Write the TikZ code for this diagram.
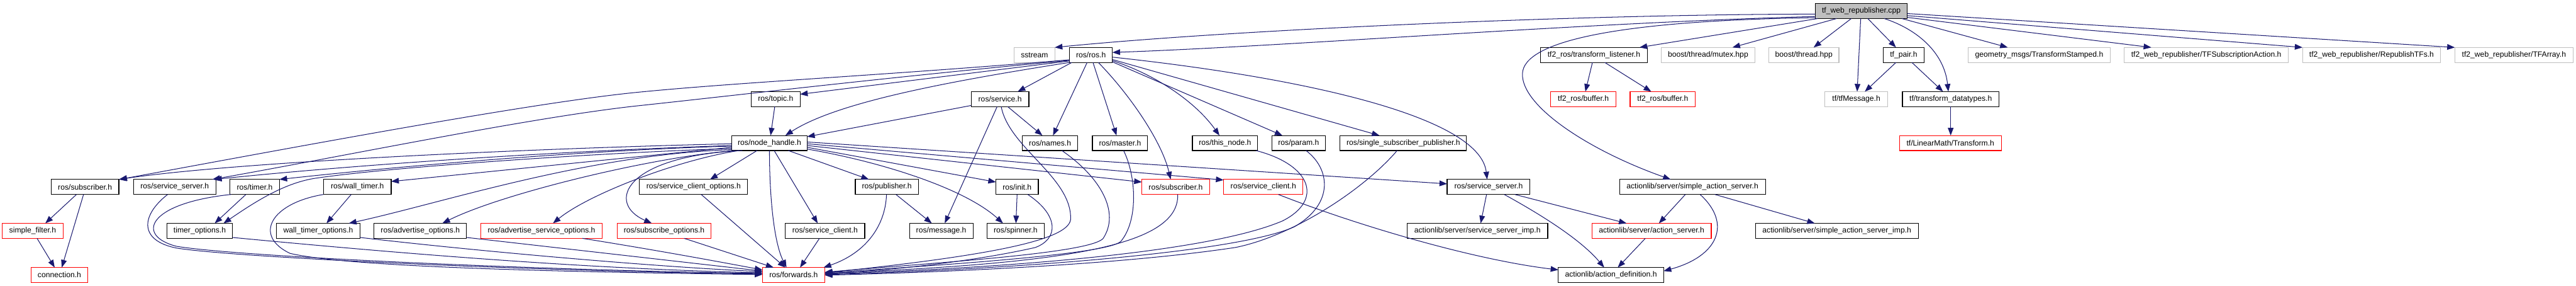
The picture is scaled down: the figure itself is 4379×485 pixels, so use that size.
\documentclass[tikz,border=0pt]{standalone}
\usepackage{fontspec}
\setmainfont{Liberation Sans}
\usetikzlibrary{arrows.meta}
\definecolor{edgec}{HTML}{191970}
\definecolor{greyb}{HTML}{BFBFBF}
\tikzset{
 box/.style={draw=black, line width=0.6pt, inner sep=0pt, outer sep=0pt, minimum height=12.75pt, font=\fontsize{6.5pt}{7.8pt}\selectfont, fill=white},
 bk/.style={box},
 rd/.style={box, draw=red},
 gy/.style={box, draw=greyb},
 rt/.style={box, fill=greyb},
 edg/.style={draw=edgec, line width=0.55pt, -{Triangle[length=6.5pt,width=4.8pt]}},
}
\newcommand{\gn}[6]{\node[#5, minimum width={(#3-#2)*0.5pt}] (#1) at ({(#2+#3)/2},#4) {#6};}
\begin{document}
\begin{tikzpicture}[x=0.5pt,y=-0.5pt]
\fill[white] (0,0) rectangle (4379,485);
\useasboundingbox (0,0) rectangle (4379,485);
% nodes
\gn{root}{3086}{3242}{18.75}{rt}{tf\_web\_republisher.cpp}
\gn{sstream}{1724}{1793}{93.25}{gy}{sstream}
\gn{rosh}{1818}{1891}{93.25}{bk}{ros/ros.h}
\gn{tflistener}{2619}{2800}{93.25}{bk}{tf2\_ros/transform\_listener.h}
\gn{mutex}{2824}{2983}{93.25}{gy}{boost/thread/mutex.hpp}
\gn{thread}{3007}{3126}{93.25}{gy}{boost/thread.hpp}
\gn{tfpair}{3201}{3271}{93.25}{bk}{tf\_pair.h}
\gn{geom}{3346}{3587}{93.25}{gy}{geometry\_msgs/TransformStamped.h}
\gn{tfsub}{3611}{3890}{93.25}{gy}{tf2\_web\_republisher/TFSubscriptionAction.h}
\gn{repub}{3914}{4149}{93.25}{gy}{tf2\_web\_republisher/RepublishTFs.h}
\gn{tfarray}{4173}{4374}{93.25}{gy}{tf2\_web\_republisher/TFArray.h}
\gn{topic}{1277}{1360}{168.25}{bk}{ros/topic.h}
\gn{service}{1651}{1749}{168.25}{bk}{ros/service.h}
\gn{buf1}{2636}{2747}{168.25}{rd}{tf2\_ros/buffer.h}
\gn{buf2}{2771}{2882}{168.25}{rd}{tf2\_ros/buffer.h}
\gn{tfmsg}{3102}{3209}{168.25}{gy}{tf/tfMessage.h}
\gn{tfdt}{3234}{3398}{168.25}{bk}{tf/transform\_datatypes.h}
\gn{nh}{1244}{1372}{242.75}{bk}{ros/node\_handle.h}
\gn{names}{1738}{1832}{242.75}{bk}{ros/names.h}
\gn{master}{1857}{1951}{242.75}{bk}{ros/master.h}
\gn{thisnode}{2027}{2138}{242.75}{bk}{ros/this\_node.h}
\gn{param}{2162}{2253}{242.75}{bk}{ros/param.h}
\gn{ssp}{2278}{2493}{242.75}{bk}{ros/single\_subscriber\_publisher.h}
\gn{lmt}{3229}{3402}{242.75}{rd}{tf/LinearMath/Transform.h}
\gn{sub}{87}{202}{317.25}{bk}{ros/subscriber.h}
\gn{ss}{227}{367}{317.25}{bk}{ros/service\_server.h}
\gn{timer}{391}{475}{317.25}{bk}{ros/timer.h}
\gn{wtimer}{550}{665}{317.25}{bk}{ros/wall\_timer.h}
\gn{sco}{1087}{1271}{317.25}{bk}{ros/service\_client\_options.h}
\gn{pub}{1454}{1561}{317.25}{bk}{ros/publisher.h}
\gn{init}{1693}{1765}{317.25}{bk}{ros/init.h}
\gn{subr}{1941}{2056}{317.25}{rd}{ros/subscriber.h}
\gn{scr}{2080}{2215}{317.25}{rd}{ros/service\_client.h}
\gn{ss2}{2460}{2601}{317.25}{bk}{ros/service\_server.h}
\gn{sas}{2753}{3001}{317.25}{bk}{actionlib/server/simple\_action\_server.h}
\gn{sf}{4}{107}{391.75}{rd}{simple\_filter.h}
\gn{topt}{284}{395}{391.75}{bk}{timer\_options.h}
\gn{wto}{470}{612}{391.75}{bk}{wall\_timer\_options.h}
\gn{ao}{636}{793}{391.75}{bk}{ros/advertise\_options.h}
\gn{aso}{817}{1024}{391.75}{rd}{ros/advertise\_service\_options.h}
\gn{so}{1049}{1209}{391.75}{rd}{ros/subscribe\_options.h}
\gn{sc}{1335}{1470}{391.75}{bk}{ros/service\_client.h}
\gn{msg}{1546}{1654}{391.75}{bk}{ros/message.h}
\gn{spin}{1678}{1775}{391.75}{bk}{ros/spinner.h}
\gn{ssimp}{2392}{2631}{391.75}{bk}{actionlib/server/service\_server\_imp.h}
\gn{as}{2706}{2909}{391.75}{rd}{actionlib/server/action\_server.h}
\gn{sasimp}{2984}{3261}{391.75}{bk}{actionlib/server/simple\_action\_server\_imp.h}
\gn{conn}{53}{149}{466.75}{rd}{connection.h}
\gn{fwd}{1296}{1402}{466.75}{rd}{ros/forwards.h}
\gn{ad}{2649}{2828}{466.75}{bk}{actionlib/action\_definition.h}
% root edges
\draw[edg] ([shift={(0,18)}]root.north west) .. controls (2700,24) and (2100,50) .. (sstream.north east);
\draw[edg] ([shift={(0,22)}]root.north west) .. controls (2700,38) and (2200,78) .. ([shift={(0,8.5)}]rosh.north east);
\draw[edg] ([shift={(0,24)}]root.north west) .. controls (2750,35) and (2590,70) .. (2588,125) .. controls (2586,180) and (2700,255) .. ([shift={(87,0)}]sas.north west);
\draw[edg] ([shift={(4,0)}]root.south west) -- ([shift={(168,0)}]tflistener.north west);
\draw[edg] ([shift={(36,0)}]root.south west) -- ([shift={(121,0)}]mutex.north west);
\draw[edg] ([shift={(61,0)}]root.south west) -- ([shift={(76,0)}]thread.north west);
\draw[edg] ([shift={(77,0)}]root.south west) -- ([shift={(55,0)}]tfmsg.north west);
\draw[edg] ([shift={(89,0)}]root.south west) -- ([shift={(22,0)}]tfpair.north west);
\draw[edg] ([shift={(117,0)}]root.south west) .. controls (3260,50) and (3305,90) .. ([shift={(78,0)}]tfdt.north west);
\draw[edg] ([shift={(147,0)}]root.south west) -- ([shift={(67,0)}]geom.north west);
\draw[edg] ([shift={(0,23.5)}]root.north east) -- ([shift={(46,0)}]tfsub.north west);
\draw[edg] ([shift={(0,20.5)}]root.north east) -- (repub.north west);
\draw[edg] ([shift={(0,17)}]root.north east) -- (tfarray.north west);
% tf edges
\draw[edg] ([shift={(22,0)}]tfpair.south west) -- ([shift={(68,0)}]tfmsg.north west);
\draw[edg] ([shift={(49,0)}]tfpair.south west) -- ([shift={(69,0)}]tfdt.north west);
\draw[edg] ([shift={(82,0)}]tfdt.south west) -- ([shift={(87,0)}]lmt.north west);
\draw[edg] ([shift={(88,0)}]tflistener.south west) -- ([shift={(59,0)}]buf1.north west);
\draw[edg] ([shift={(109,0)}]tflistener.south west) -- ([shift={(36,0)}]buf2.north west);
% ros.h edges
\draw[edg] ([shift={(4,0)}]rosh.south west) -- ([shift={(79,0)}]service.north west);
\draw[edg] ([shift={(30,0)}]rosh.south west) -- ([shift={(52,0)}]names.north west);
\draw[edg] ([shift={(40,0)}]rosh.south west) -- ([shift={(41,0)}]master.north west);
\draw[edg] ([shift={(49,0)}]rosh.south west) .. controls (1920,160) and (1975,240) .. ([shift={(49,0)}]subr.north west);
\draw[edg] ([shift={(0,22.5)}]rosh.north east) .. controls (1960,125) and (2030,170) .. ([shift={(46,0)}]thisnode.north west);
\draw[edg] ([shift={(0,24.5)}]rosh.north east) -- ([shift={(18,0)}]param.north west);
\draw[edg] ([shift={(0,20.5)}]rosh.north east) -- ([shift={(67,0)}]ssp.north west);
\draw[edg] ([shift={(0,16.5)}]rosh.north east) .. controls (2200,130) and (2515,195) .. ([shift={(68,0)}]ss2.north west);
\draw[edg] ([shift={(0,23)}]rosh.north west) -- ([shift={(0,4.5)}]topic.north east);
\draw[edg] (rosh.south west) .. controls (1600,140) and (1420,175) .. ([shift={(91,0)}]nh.north west);
\draw[edg] ([shift={(0,21)}]rosh.north west) .. controls (1500,128) and (1250,140) .. (1080,157) .. controls (900,175) and (500,250) .. ([shift={(116,0)}]sub.north west);
\draw[edg] ([shift={(0,22)}]rosh.north west) .. controls (1500,132) and (1250,162) .. (1080,180) .. controls (900,200) and (600,262) .. ([shift={(134,0)}]ss.north west);
% node_handle edges
\draw[edg] ([shift={(0,14)}]nh.north west) .. controls (900,252) and (400,275) .. ([shift={(115,0)}]sub.north west);
\draw[edg] ([shift={(0,17)}]nh.north west) .. controls (900,258) and (550,285) .. ([shift={(137,0)}]ss.north west);
\draw[edg] ([shift={(0,18)}]nh.north west) .. controls (1000,255) and (700,280) .. ([shift={(84,0)}]timer.north west);
\draw[edg] ([shift={(0,20)}]nh.north west) -- ([shift={(0,3.5)}]wtimer.north east);
\draw[edg] ([shift={(0,22)}]nh.north west) .. controls (1000,260) and (650,285) .. (533,303) .. controls (480,312) and (430,345) .. ([shift={(96,0)}]topt.north west);
\draw[edg] ([shift={(0,24)}]nh.north west) .. controls (1000,262) and (750,345) .. ([shift={(123,0)}]wto.north west);
\draw[edg] ([shift={(4,0)}]nh.south west) .. controls (1100,268) and (850,330) .. ([shift={(116,0)}]ao.north west);
\draw[edg] ([shift={(12,0)}]nh.south west) .. controls (1150,272) and (1000,330) .. ([shift={(123,0)}]aso.north west);
\draw[edg] ([shift={(18,0)}]nh.south west) .. controls (1060,265) and (1030,345) .. ([shift={(59,0)}]so.north west);
\draw[edg] ([shift={(43,0)}]nh.south west) -- ([shift={(120,0)}]sco.north west);
\draw[edg] ([shift={(64,0)}]nh.south west) .. controls (1308,330) and (1315,410) .. ([shift={(41,0)}]fwd.north west);
\draw[edg] ([shift={(72,0)}]nh.south west) -- ([shift={(55,0)}]sc.north west);
\draw[edg] ([shift={(96,0)}]nh.south west) -- ([shift={(23,0)}]pub.north west);
\draw[edg] ([shift={(0,20)}]nh.north east) -- ([shift={(0,4.5)}]init.north west);
\draw[edg] ([shift={(0,23)}]nh.north east) .. controls (1500,275) and (1640,320) .. ([shift={(27,0)}]spin.north west);
\draw[edg] ([shift={(0,17)}]nh.north east) -- ([shift={(0,4.5)}]subr.north west);
\draw[edg] ([shift={(0,14)}]nh.north east) -- ([shift={(0,1)}]scr.north west);
\draw[edg] ([shift={(0,11)}]nh.north east) -- ([shift={(0,7.5)}]ss2.north west);
% other ros edges
\draw[edg] ([shift={(40,0)}]topic.south west) -- ([shift={(66,0)}]nh.north west);
\draw[edg] ([shift={(0,23.5)}]service.north west) -- ([shift={(0,2)}]nh.north east);
\draw[edg] ([shift={(62,0)}]service.south west) -- ([shift={(34,0)}]names.north west);
\draw[edg] ([shift={(44,0)}]service.south west) -- ([shift={(60,0)}]msg.north west);
\draw[edg] ([shift={(51,0)}]service.south west) .. controls (1715,250) and (1820,300) .. (1820,370) .. controls (1822,405) and (1700,432) .. ([shift={(0,9)}]fwd.north east);
\draw[edg] ([shift={(67,0)}]names.south west) .. controls (1870,300) and (1905,360) .. (1875,405) .. controls (1850,430) and (1600,445) .. ([shift={(0,8)}]fwd.north east);
\draw[edg] ([shift={(53,0)}]master.south west) .. controls (1932,300) and (1935,375) .. (1905,410) .. controls (1880,432) and (1600,450) .. ([shift={(0,9)}]fwd.north east);
\draw[edg] ([shift={(61,0)}]subr.south west) .. controls (2005,420) and (1800,447) .. ([shift={(0,10)}]fwd.north east);
\draw[edg] ([shift={(108,0)}]thisnode.south west) .. controls (2230,280) and (2250,340) .. (2180,375) .. controls (2050,430) and (1700,455) .. ([shift={(0,11)}]fwd.north east);
\draw[edg] ([shift={(58,0)}]param.south west) .. controls (2260,285) and (2270,345) .. (2200,385) .. controls (2100,430) and (1700,458) .. ([shift={(0,12)}]fwd.north east);
\draw[edg] ([shift={(97,0)}]ssp.south west) .. controls (2320,320) and (2200,400) .. (2100,420) .. controls (1900,450) and (1600,462) .. ([shift={(0,13)}]fwd.north east);
\draw[edg] ([shift={(54,0)}]init.south west) .. controls (1800,365) and (1800,405) .. (1760,420) .. controls (1650,445) and (1500,460) .. ([shift={(0,10)}]fwd.north east);
\draw[edg] ([shift={(53,0)}]pub.south west) .. controls (1505,385) and (1470,430) .. ([shift={(104,0)}]fwd.north west);
\draw[edg] ([shift={(69,0)}]pub.south west) -- ([shift={(38,0)}]msg.north west);
\draw[edg] ([shift={(36,0)}]init.south west) -- ([shift={(49,0)}]spin.north west);
\draw[edg] ([shift={(58,0)}]sc.south west) -- ([shift={(64,0)}]fwd.north west);
\draw[edg] ([shift={(105,0)}]sco.south west) -- ([shift={(39,0)}]fwd.north west);
\draw[edg] ([shift={(114,0)}]so.south west) -- ([shift={(19,0)}]fwd.north west);
\draw[edg] ([shift={(173,0)}]aso.south west) .. controls (1100,422) and (1200,440) .. ([shift={(0,4)}]fwd.north west);
\draw[edg] ([shift={(0,24)}]ao.north east) -- ([shift={(0,6)}]fwd.north west);
\draw[edg] ([shift={(0,24)}]wto.north east) .. controls (800,425) and (1100,452) .. ([shift={(0,7)}]fwd.north west);
\draw[edg] ([shift={(0,24)}]topt.north east) .. controls (700,432) and (1000,456) .. ([shift={(0,9)}]fwd.north west);
\draw[edg] ([shift={(2,0)}]timer.south west) .. controls (250,345) and (230,400) .. (300,418) .. controls (400,435) and (900,458) .. ([shift={(0,10)}]fwd.north west);
\draw[edg] ([shift={(58,0)}]ss.south west) .. controls (240,365) and (235,408) .. (300,421) .. controls (400,437) and (900,460) .. ([shift={(0,11)}]fwd.north west);
\draw[edg] (wtimer.south west) .. controls (460,345) and (430,400) .. (493,430) .. controls (600,455) and (1000,462) .. ([shift={(0,12)}]fwd.north west);
\draw[edg] ([shift={(27,0)}]timer.south west) -- ([shift={(81,0)}]topt.north west);
\draw[edg] ([shift={(47,0)}]wtimer.south west) -- ([shift={(85,0)}]wto.north west);
\draw[edg] ([shift={(43,0)}]sub.south west) -- ([shift={(73,0)}]sf.north west);
\draw[edg] ([shift={(55,0)}]sub.south west) -- ([shift={(52,0)}]conn.north west);
\draw[edg] ([shift={(59,0)}]sf.south west) -- ([shift={(40,0)}]conn.north west);
% actionlib edges
\draw[edg] ([shift={(67,0)}]ss2.south west) -- ([shift={(125,0)}]ssimp.north west);
\draw[edg] ([shift={(115,0)}]ss2.south west) -- ([shift={(59,0)}]as.north west);
\draw[edg] ([shift={(97,0)}]ss2.south west) .. controls (2630,370) and (2690,410) .. ([shift={(78,0)}]ad.north west);
\draw[edg] ([shift={(112,0)}]sas.south west) -- ([shift={(114,0)}]as.north west);
\draw[edg] ([shift={(162,0)}]sas.south west) -- ([shift={(101,0)}]sasimp.north west);
\draw[edg] ([shift={(137,0)}]sas.south west) .. controls (2945,380) and (2920,435) .. ([shift={(0,6)}]ad.north east);
\draw[edg] ([shift={(91,0)}]as.south west) -- ([shift={(101,0)}]ad.north west);
\draw[edg] ([shift={(93,0)}]scr.south west) .. controls (2300,380) and (2500,440) .. ([shift={(0,4)}]ad.north west);
\end{tikzpicture}
\end{document}
